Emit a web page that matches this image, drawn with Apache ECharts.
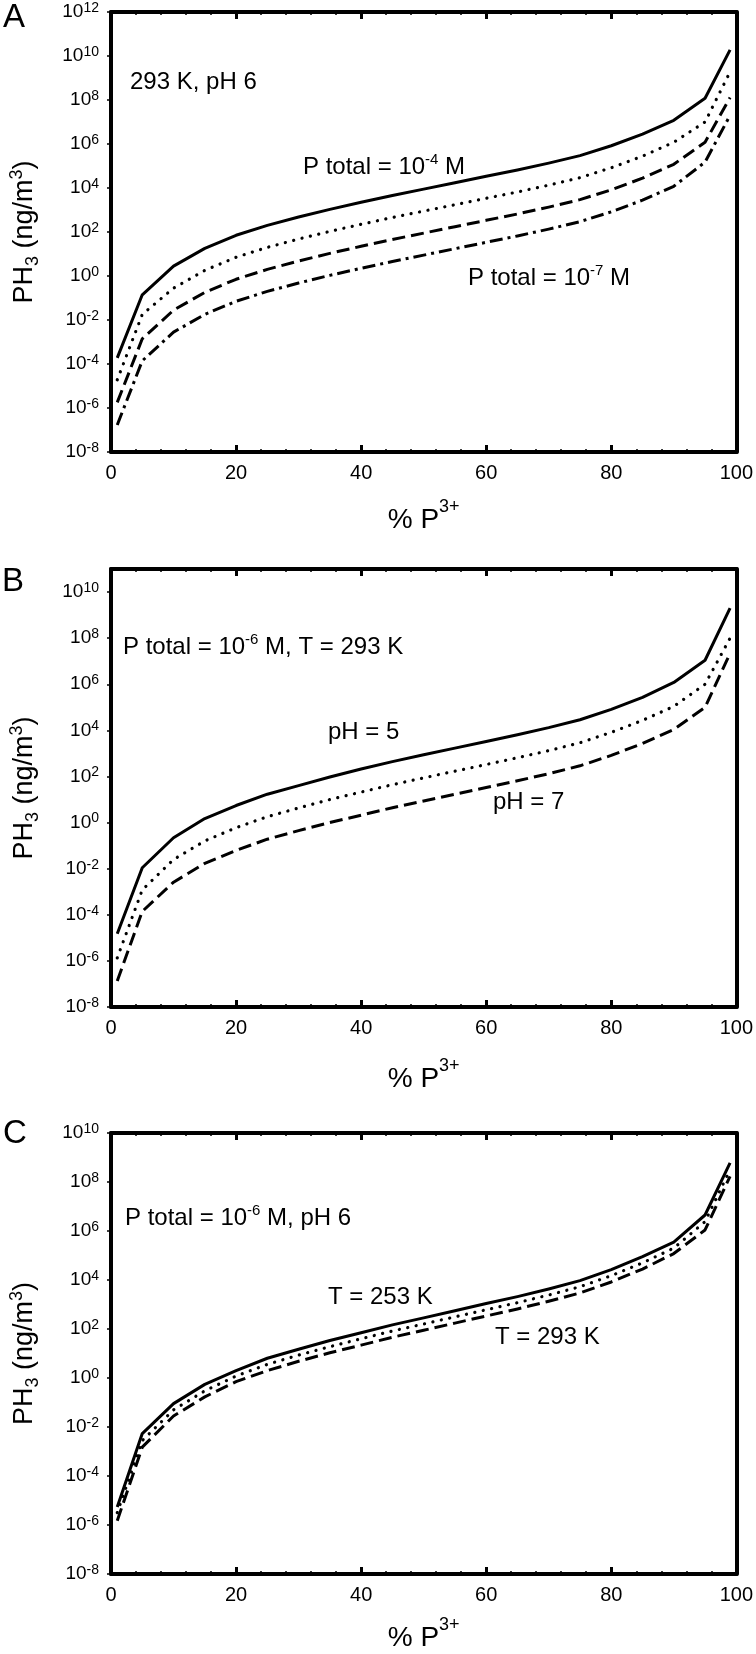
<!DOCTYPE html>
<html>
<head>
<meta charset="utf-8">
<script src="https://cdn.jsdelivr.net/npm/echarts@6/dist/echarts.min.js"></script>
<style>
html,body{margin:0;padding:0;background:#fff;}
#chart{width:756px;height:1654px;}
</style>
</head>
<body>
<div id="chart"></div>
<script>
// ---- data ----
const pctP3 = [1,5,10,15,20,25,30,35,40,45,50,55,60,65,70,75,80,85,90,95,99];
const xTicks = [0,20,40,60,80,100];

// Panel A: 293 K, pH 6, P total = 1e-4 ... 1e-7 M
const phA_Pm4 = [1.9e-4,0.14,2.8,18,71,200,480,1070,2240,4570,8900,1.74e4,3.4e4,6.6e4,1.35e5,2.95e5,8.3e5,2.8e6,1.2e7,1.2e8,1.9e10];
const phA_Pm5 = [1.9e-5,0.018,0.28,1.8,7.1,20,48,107,224,457,890,1740,3400,6600,1.35e4,2.95e4,8.3e4,2.8e5,1.2e6,1.0e7,1.9e9];
const phA_Pm6 = [1.8e-6,1.4e-3,0.028,0.18,0.71,2.0,4.8,10.7,22.4,45.7,89,174,340,660,1350,2950,8300,2.8e4,1.2e5,1.2e6,1.3e8];
const phA_Pm7 = [1.7e-7,1.4e-4,2.8e-3,0.018,0.071,0.2,0.48,1.07,2.24,4.57,8.9,17.4,34,66,135,295,830,2800,1.2e4,1.5e5,2.0e7];

// Panel B: P total = 1e-6 M, 293 K, pH 5 / 6 / 7
const phB_pH5 = [1.5e-5,0.011,0.22,1.5,5.5,17,40,95,210,440,870,1700,3300,6500,1.32e4,2.9e4,8.2e4,2.7e5,1.2e6,1.1e7,2.0e9];
const phB_pH6 = [1.35e-6,1.2e-3,0.025,0.16,0.6,1.8,4.3,10,21,44,87,170,330,650,1320,2900,8200,2.7e4,1.1e5,1.0e6,1.0e8];
const phB_pH7 = [1.35e-7,1.4e-4,2.6e-3,0.017,0.062,0.19,0.45,1.0,2.1,4.4,8.7,17,33,65,132,290,820,2700,1.1e4,1.0e5,2.2e7];

// Panel C: P total = 1e-6 M, pH 6, T = 253 / 273 / 293 K
const phC_T253 = [5.4e-6,5.4e-3,0.09,0.55,2.0,6.4,15,34,70,147,285,560,1090,2100,4300,9400,2.65e4,9.0e4,3.5e5,4.5e6,6.0e8];
const phC_T273 = [3.2e-6,2.8e-3,0.05,0.3,1.2,3.6,8.6,19,40,83,160,313,610,1190,2430,5300,1.5e4,5.0e4,2.0e5,2.4e6,3.2e8];
const phC_T293 = [1.5e-6,1.5e-3,0.028,0.17,0.71,2.0,4.8,10.7,22,46,89,174,340,660,1350,2950,8300,2.8e4,1.2e5,1.1e6,1.7e8];

const yTicksA = [1e-8,1e-6,1e-4,1e-2,1,1e2,1e4,1e6,1e8,1e10,1e12];
const yTicksB = [1e-8,1e-6,1e-4,1e-2,1,1e2,1e4,1e6,1e8,1e10];
const yTicksC = [1e-8,1e-6,1e-4,1e-2,1,1e2,1e4,1e6,1e8,1e10];

// ---- styling ----
const FONT = "'Liberation Sans', Arial, sans-serif";
const BLACK = '#000';
const styles = {
  solid:   {type:'solid', width:3, cap:'butt'},
  dotted:  {type:[0.1,8.5], width:3.2, cap:'round'},
  dashed:  {type:[13,6], width:3, cap:'butt'},
  dashdot: {type:[13,5,3,5], width:3, cap:'butt'}
};

const panels = [
  {top:12,  height:440, ymax:1e12, ticks:yTicksA, nameGap:46,
   series:[[phA_Pm4,'solid'],[phA_Pm5,'dotted'],[phA_Pm6,'dashed'],[phA_Pm7,'dashdot']]},
  {top:569, height:438, ymax:1e11, ticks:yTicksB, nameGap:50,
   series:[[phB_pH5,'solid'],[phB_pH6,'dotted'],[phB_pH7,'dashed']]},
  {top:1133,height:441, ymax:1e10, ticks:yTicksC, nameGap:42,
   series:[[phC_T253,'solid'],[phC_T273,'dotted'],[phC_T293,'dashed']]}
];

const grid=[], xAxis=[], yAxis=[], series=[];
panels.forEach((p,i)=>{
  grid.push({left:109, width:628, top:p.top, height:p.height, containLabel:false});
  // bottom x
  xAxis.push({
    type:'value', gridIndex:i, position:'bottom', min:0, max:100, interval:20,
    name:'{a|% P}{s|3+}', nameLocation:'middle', nameGap:p.nameGap,
    nameTextStyle:{color:BLACK, fontFamily:FONT, rich:{
      a:{fontSize:28, lineHeight:44, fontFamily:FONT, color:BLACK},
      s:{fontSize:18, lineHeight:12, verticalAlign:'top', fontFamily:FONT, color:BLACK}}},
    axisLine:{show:true, onZero:false, lineStyle:{color:BLACK, width:4}},
    axisTick:{show:true, inside:true, length:7, lineStyle:{color:BLACK, width:3}},
    minorTick:{show:true, splitNumber:5, length:3, lineStyle:{color:BLACK, width:1.5}},
    axisLabel:{show:true, margin:11, fontSize:20, color:BLACK, fontFamily:FONT},
    splitLine:{show:false}, minorSplitLine:{show:false}
  });
  // top x (frame)
  xAxis.push({
    type:'value', gridIndex:i, position:'top', min:0, max:100, interval:20,
    axisLine:{show:true, onZero:false, lineStyle:{color:BLACK, width:4}},
    axisTick:{show:true, inside:true, length:7, lineStyle:{color:BLACK, width:3}},
    minorTick:{show:true, splitNumber:5, length:3, lineStyle:{color:BLACK, width:1.5}},
    axisLabel:{show:false}, splitLine:{show:false}
  });
  // left log y
  yAxis.push({
    type:'log', logBase:10, gridIndex:i, position:'left', min:1e-8, max:p.ymax,
    name:'{a|PH}{sub|3}{a| (ng/m}{sup|3}{a|)}', nameLocation:'middle', nameRotate:90, nameGap:69,
    nameTextStyle:{color:BLACK, fontFamily:FONT, rich:{
      a:{fontSize:27, lineHeight:34, fontFamily:FONT, color:BLACK},
      sub:{fontSize:18, lineHeight:20, verticalAlign:'bottom', fontFamily:FONT, color:BLACK},
      sup:{fontSize:18, lineHeight:14, verticalAlign:'top', fontFamily:FONT, color:BLACK}}},
    axisLine:{show:true, onZero:false, lineStyle:{color:BLACK, width:4}},
    axisTick:{show:true, inside:false, length:4, lineStyle:{color:BLACK, width:1.5}, customValues:p.ticks},
    axisLabel:{show:true, margin:12, color:BLACK, fontFamily:FONT, customValues:p.ticks,
      formatter:(v)=>'{b|10}{s|'+Math.round(Math.log10(v))+'}',
      rich:{b:{fontSize:19, lineHeight:22, fontFamily:FONT, color:BLACK},
            s:{fontSize:14, lineHeight:13, verticalAlign:'top', fontFamily:FONT, color:BLACK}}},
    splitLine:{show:false}, minorTick:{show:false}
  });
  // right frame
  yAxis.push({
    type:'value', gridIndex:i, position:'right', min:0, max:1,
    axisLine:{show:true, onZero:false, lineStyle:{color:BLACK, width:4}},
    axisTick:{show:false}, axisLabel:{show:false}, splitLine:{show:false}
  });
  p.series.forEach(([vals,st])=>{
    series.push({
      type:'line', xAxisIndex:2*i, yAxisIndex:2*i, showSymbol:false, symbol:'none',
      silent:true, animation:false,
      data: pctP3.map((x,k)=>[x, vals[k]]),
      lineStyle:Object.assign({color:BLACK, join:'round'}, styles[st])
    });
  });
});

const supRich = {
  t:{fontSize:24, lineHeight:30, fontFamily:FONT, color:BLACK},
  s:{fontSize:15, lineHeight:16, verticalAlign:'top', fontFamily:FONT, color:BLACK}
};
function ann(x, y, text){
  return {type:'text', x:x, y:y, silent:true, z:100,
    style:{text:text, rich:supRich, fill:BLACK, font:'24px '+FONT, verticalAlign:'middle', align:'left'}};
}
function letter(x, y, t){
  return {type:'text', x:x, y:y, silent:true, z:100,
    style:{text:t, fill:BLACK, font:'33px '+FONT, verticalAlign:'middle', align:'left'}};
}
const graphic = [
  letter(3, 18, 'A'), letter(2, 582, 'B'), letter(3, 1134, 'C'),
  ann(130, 82, '{t|293 K, pH 6}'),
  ann(303, 167, '{t|P total = 10}{s|-4}{t| M}'),
  ann(468, 278, '{t|P total = 10}{s|-7}{t| M}'),
  ann(123, 647, '{t|P total = 10}{s|-6}{t| M, T = 293 K}'),
  ann(328, 732, '{t|pH = 5}'),
  ann(493, 802, '{t|pH = 7}'),
  ann(125, 1218, '{t|P total = 10}{s|-6}{t| M, pH 6}'),
  ann(328, 1297, '{t|T = 253 K}'),
  ann(495, 1337, '{t|T = 293 K}')
];

const chart = echarts.init(document.getElementById('chart'), null, {renderer:'canvas'});
chart.setOption({
  animation:false,
  backgroundColor:'#fff',
  textStyle:{fontFamily:FONT},
  grid:grid, xAxis:xAxis, yAxis:yAxis, series:series, graphic:graphic
});
</script>
</body>
</html>
